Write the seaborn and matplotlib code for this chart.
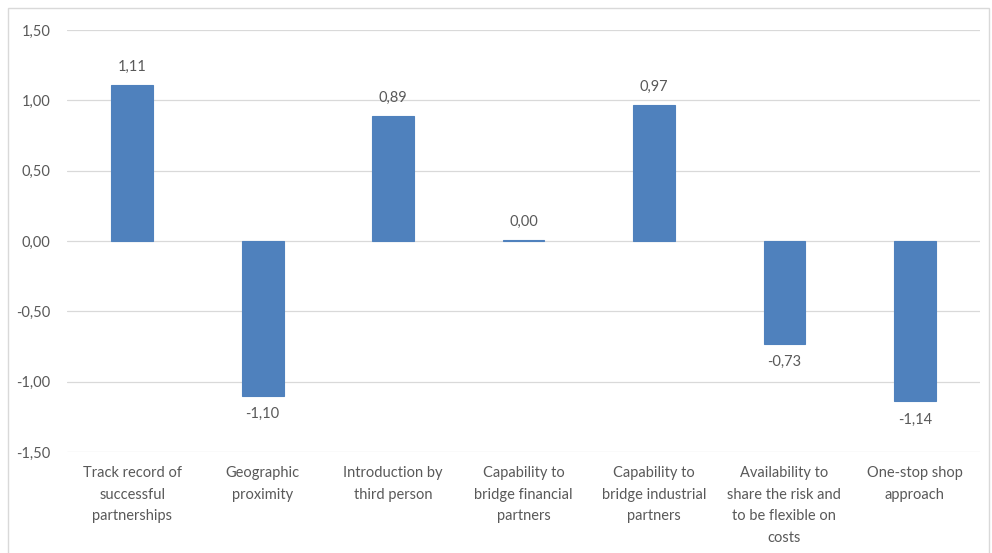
import matplotlib
matplotlib.use('Agg')
import matplotlib.pyplot as plt
from matplotlib.patches import Rectangle
import seaborn as sns
import pandas as pd

categories = ['Track record of\nsuccessful\npartnerships',
              'Geographic\nproximity',
              'Introduction by\nthird person',
              'Capability to\nbridge financial\npartners',
              'Capability to\nbridge industrial\npartners',
              'Availability to\nshare the risk and\nto be flexible on\ncosts',
              'One-stop shop\napproach']
values = [1.11, -1.10, 0.89, 0.004, 0.97, -0.73, -1.14]
yticks = [-1.5, -1.0, -0.5, 0.0, 0.5, 1.0, 1.5]

sns.set_style('white')
plt.rcParams['font.family'] = ['Lato', 'DejaVu Sans']
text_col = '#595959'
fs = 10.5

df = pd.DataFrame({'cat': categories, 'val': values})

fig = plt.figure(figsize=(9.92, 5.53), dpi=100)
ax = fig.add_axes([0.0675, 0.1826, 0.9205, 0.7632])
sns.barplot(data=df, x='cat', y='val', color='#4F81BD', saturation=1, width=0.32,
            edgecolor='#4F81BD', linewidth=0.8, ax=ax)

ax.set_ylim(-1.5, 1.5)
ax.set_yticks(yticks)
ax.set_yticklabels([f'{t:.2f}'.replace('.', ',') for t in yticks], color=text_col, fontsize=fs)
ax.set_xticks(range(len(categories)))
ax.set_xticklabels(categories, color=text_col, fontsize=fs, linespacing=1.7, va='top')
ax.tick_params(axis='x', length=0, pad=10)
ax.tick_params(axis='y', length=0, pad=12)
ax.set_xlabel('')
ax.set_ylabel('')
for s in ax.spines.values():
    s.set_visible(False)
ax.grid(axis='y', color='#D9D9D9', linewidth=0.9)
ax.set_axisbelow(True)

for i, v in enumerate(values):
    lab = f'{v:.2f}'.replace('.', ',')
    if v >= 0:
        ax.annotate(lab, (i, v), xytext=(0, 8), textcoords='offset points',
                    ha='center', va='bottom', color=text_col, fontsize=fs)
    else:
        ax.annotate(lab, (i, v), xytext=(0, -8), textcoords='offset points',
                    ha='center', va='top', color=text_col, fontsize=fs)

fig.patches.append(Rectangle((8 / 992, -0.01), 981 / 992, 1 - 8 / 553 + 0.01,
                             transform=fig.transFigure, fill=False,
                             edgecolor='#D9D9D9', linewidth=1))

fig.savefig('out.png', dpi=100)
